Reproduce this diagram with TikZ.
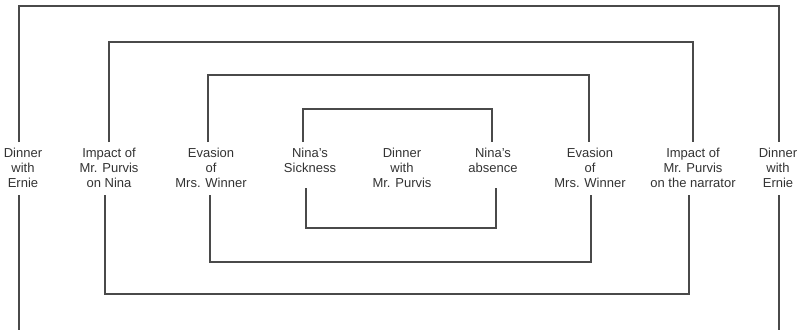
\documentclass[tikz,border=0pt]{standalone}
\usepackage{fontspec}
\setmainfont{Liberation Sans}
\definecolor{txt}{HTML}{333333}
\definecolor{ln}{HTML}{4A4A4A}
\begin{document}
\begin{tikzpicture}[x=1pt,y=-1pt,
  lbl/.style={anchor=north, align=center, inner xsep=0pt, inner ysep=6pt,
    font=\fontsize{13}{15}\selectfont, text=txt},
  conn/.style={draw=ln, line width=1.1pt}]
\useasboundingbox (0,0) rectangle (801,330);
% labels
\node[lbl] (a1) at (23,142)  {Dinner\\with\\Ernie};
\node[lbl] (b1) at (109,142) {Impact of\\Mr. Purvis\\on Nina};
\node[lbl] (c1) at (211,142) {Evasion\\of\\Mrs. Winner};
\node[lbl] (d1) at (310,142) {Nina’s\\Sickness};
\node[lbl] (m)  at (402,142) {Dinner\\with\\Mr. Purvis};
\node[lbl] (d2) at (493,142) {Nina’s\\absence};
\node[lbl] (c2) at (590,142) {Evasion\\of\\Mrs. Winner};
\node[lbl] (b2) at (693,142) {Impact of\\Mr. Purvis\\on the narrator};
\node[lbl] (a2) at (778,142) {Dinner\\with\\Ernie};
% turning points of the brackets
\coordinate (ta) at (400,6);
\coordinate (tb) at (400,42);
\coordinate (tc) at (400,75);
\coordinate (td) at (400,109);
\coordinate (bb) at (400,294);
\coordinate (bc) at (400,262);
\coordinate (bd) at (400,228);
\coordinate (ea1) at (19,330);
\coordinate (ea2) at (779,330);
\coordinate (sa) at (0,195);
\coordinate (sd) at (0,188);
% upper brackets
\draw[conn] ([xshift=-4pt]a1.north) |- (ta) -| ([xshift=1pt]a2.north);
\draw[conn] (b1.north) |- (tb) -| (b2.north);
\draw[conn] ([xshift=-3pt]c1.north) |- (tc) -| ([xshift=-1pt]c2.north);
\draw[conn] ([xshift=-7pt]d1.north) |- (td) -| ([xshift=-1pt]d2.north);
% lower brackets
\draw[conn] (ea1 |- sa) -- (ea1);
\draw[conn] (ea2 |- sa) -- (ea2);
\draw[conn] ([xshift=-4pt]b1.south |- sa) |- (bb) -| ([xshift=-4pt]b2.south |- sa);
\draw[conn] ([xshift=-1pt]c1.south |- sa) |- (bc) -| ([xshift=1pt]c2.south |- sa);
\draw[conn] ([xshift=-4pt]d1.south |- sd) |- (bd) -| ([xshift=3pt]d2.south |- sd);
\end{tikzpicture}
\end{document}
